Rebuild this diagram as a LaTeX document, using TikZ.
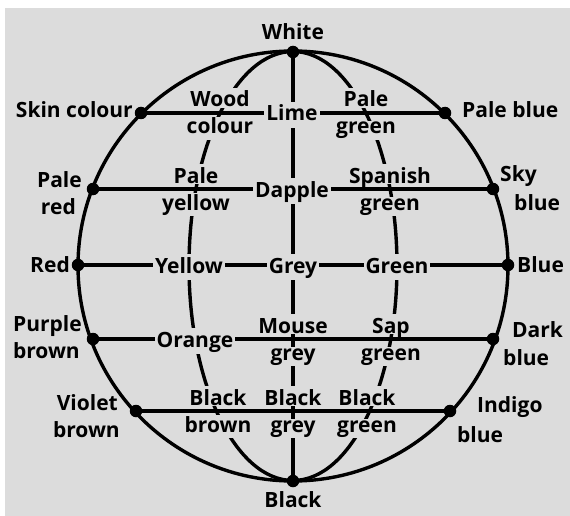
\documentclass[tikz,border=0pt]{standalone}
\usepackage{fontspec}
\setmainfont{Open Sans}
\definecolor{bg}{HTML}{DCDCDC}
\tikzset{
  txt/.style={font=\fontsize{21}{23}\selectfont\bfseries, anchor=base},
  lbl/.style={txt, fill=bg, inner xsep=2pt, inner ysep=1pt, text height=18pt, text depth=6pt},
  uplbl/.style={txt, fill=bg, inner xsep=2pt, inner ysep=1pt, text height=18pt, text depth=0pt},
  lolbl/.style={txt, fill=bg, inner xsep=2pt, inner ysep=1pt, text depth=5pt},
  olbl/.style={txt, inner sep=0pt},
  dotnode/.style={circle, fill=black, minimum size=12.5pt, inner sep=0pt},
  wire/.style={line width=3.4pt, black}
}
\begin{document}
\begin{tikzpicture}[x=1pt,y=-1pt]
\useasboundingbox (0,0) rectangle (570,516);
\fill[white] (0,0) rectangle (570,516);
\fill[bg] (5,8) rectangle (570,516);
\coordinate (c) at (293,266);
% dots
\node[dotnode] (white) at (293,52) {};
\node[dotnode] (black) at (293,481) {};
\node[dotnode] (skin) at (141,113) {};
\node[dotnode] (paleblue) at (445,113) {};
\node[dotnode] (palered) at (93,189) {};
\node[dotnode] (skyblue) at (493,189) {};
\node[dotnode] (red) at (78,265) {};
\node[dotnode] (blue) at (508,265) {};
\node[dotnode] (purplebrown) at (93,339) {};
\node[dotnode] (darkblue) at (493,339) {};
\node[dotnode] (violetbrown) at (136,411) {};
\node[dotnode] (indigoblue) at (450,411) {};
% lines
\draw[wire] (c) circle[radius=215];
\draw[wire] (c) ellipse[x radius=104, y radius=214.5];
\draw[wire] (white) -- (black);
\draw[wire] (skin) -- (paleblue);
\draw[wire] (palered) -- (skyblue);
\draw[wire] (red) -- (blue);
\draw[wire] (purplebrown) -- (darkblue);
\draw[wire] (violetbrown) -- (indigoblue);
% inner labels
\node[uplbl] (wood) at (220,107) {Wood};
\node[lolbl] (woodb) at (220,134) {colour};
\node[lbl] (lime) at (292,121) {Lime};
\node[uplbl] (pg) at (366,107) {Pale};
\node[lolbl] (pgb) at (366,134) {green};
\node[uplbl] (py) at (196,183) {Pale};
\node[lolbl] (pyb) at (196,210) {yellow};
\node[lbl] (dapple) at (292,197) {Dapple};
\node[uplbl] (sg) at (390,183) {Spanish};
\node[lolbl] (sgb) at (390,210) {green};
\node[lbl] (yellow) at (189,273) {Yellow};
\node[lbl] (grey) at (293,273) {Grey};
\node[lbl] (green) at (397,273) {Green};
\node[lbl] (orange) at (195,347) {Orange};
\node[uplbl] (mg) at (293,333) {Mouse};
\node[lolbl] (mgb) at (293,360) {grey};
\node[uplbl] (sap) at (391,333) {Sap};
\node[lolbl] (sapb) at (391,360) {green};
\node[uplbl] (bb) at (218,405) {Black};
\node[lolbl] (bbb) at (218,432) {brown};
\node[uplbl] (bg1) at (293,405) {Black};
\node[lolbl] (bgb) at (293,432) {grey};
\node[uplbl] (bgr) at (367,405) {Black};
\node[lolbl] (bgrb) at (367,432) {green};
% outer labels
\node[olbl] (twhite) at (293,40) {White};
\node[olbl, anchor=base east] (tskin) at (133,118) {Skin colour};
\node[olbl, anchor=base west] (tpaleblue) at (462,118) {Pale blue};
\node[olbl, anchor=base east] (tpr) at (82,187) {Pale};
\node[olbl, anchor=base east] (tprb) at (76,214) {red};
\node[olbl, anchor=base west] (tsky) at (500,181) {Sky};
\node[olbl, anchor=base west] (tskyb) at (514,210) {blue};
\node[olbl, anchor=base east] (tred) at (70,272) {Red};
\node[olbl, anchor=base west] (tblue) at (517,272) {Blue};
\node[olbl, anchor=base east] (tpb) at (82,331) {Purple};
\node[olbl, anchor=base east] (tpbb) at (80,358) {brown};
\node[olbl, anchor=base west] (tdb) at (512,337) {Dark};
\node[olbl, anchor=base west] (tdbb) at (503,365) {blue};
\node[olbl, anchor=base east] (tvb) at (118,410) {Violet};
\node[olbl, anchor=base east] (tvbb) at (120,437) {brown};
\node[olbl, anchor=base west] (tib) at (477,412) {Indigo};
\node[olbl, anchor=base west] (tibb) at (457,442) {blue};
\node[olbl] (tblack) at (293,507) {Black};
\end{tikzpicture}
\end{document}
